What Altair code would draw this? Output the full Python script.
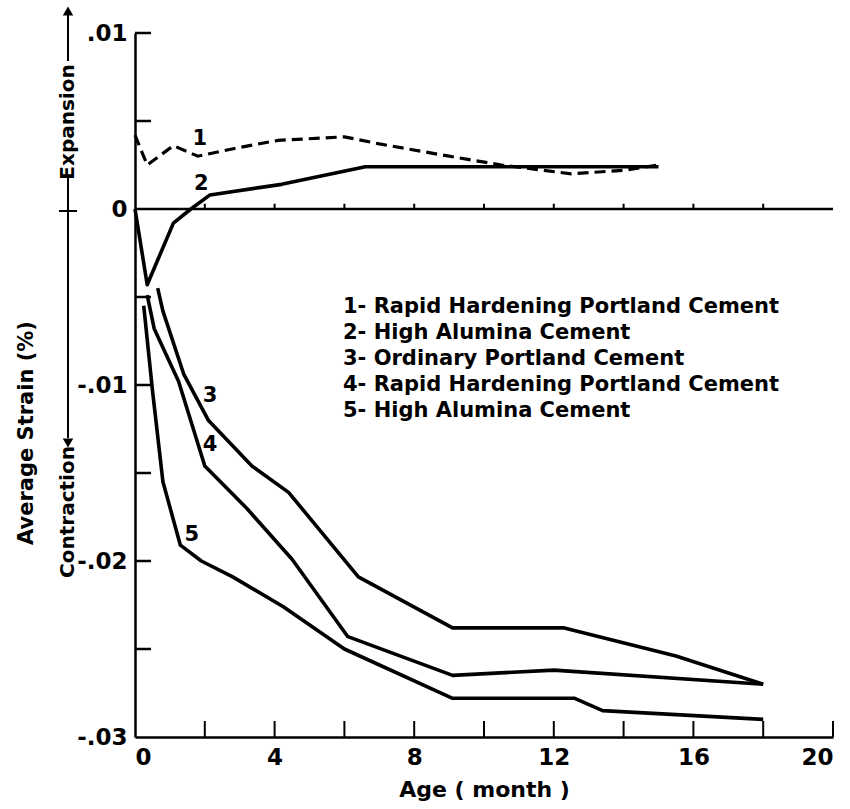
import altair as alt
import pandas as pd

# ---- data ----
s1_x = [0, 0.35, 1.1, 1.8, 3.0, 4.1, 6.0, 7.0, 9.0, 10.5, 12.5, 14.0, 15.0]
s1_y = [0.0042, 0.0025, 0.0036, 0.0030, 0.0035, 0.0039, 0.0041, 0.0037, 0.0030, 0.0025, 0.0020, 0.0022, 0.0025]

s2_x = [0, 0.35, 1.1, 1.6, 2.15, 4.2, 6.6, 10.0, 15.0]
s2_y = [0, -0.0043, -0.0008, 0, 0.0008, 0.0014, 0.0024, 0.0024, 0.0024]

s3_x = [0.65, 0.8, 1.4, 2.1, 3.35, 4.4, 6.4, 9.1, 12.3, 15.5, 18.0]
s3_y = [-0.0045, -0.0058, -0.0094, -0.0120, -0.0146, -0.0161, -0.0209, -0.0238, -0.0238, -0.0254, -0.0270]

s4_x = [0.35, 0.55, 1.25, 2.0, 3.2, 4.5, 6.1, 9.1, 12.0, 18.0]
s4_y = [-0.0049, -0.0068, -0.0098, -0.0146, -0.0170, -0.0199, -0.0243, -0.0265, -0.0262, -0.0270]

s5_x = [0.25, 0.5, 0.8, 1.3, 1.9, 2.8, 4.25, 6.0, 9.1, 12.6, 13.4, 18.0]
s5_y = [-0.0055, -0.0103, -0.0155, -0.0191, -0.0200, -0.0209, -0.0226, -0.0250, -0.0278, -0.0278, -0.0285, -0.0290]

curve_labels = ["1", "2", "3", "4", "5"]
curve_label_x = [1.86, 1.9, 2.15, 2.15, 1.63]
curve_label_y = [0.0040, 0.0014, -0.0106, -0.0134, -0.0185]

legend_lines = [
    "1- Rapid Hardening Portland Cement",
    "2- High Alumina Cement",
    "3- Ordinary Portland Cement",
    "4- Rapid Hardening Portland Cement",
    "5- High Alumina Cement",
]

x_tick_labels = [0, 4, 8, 12, 16, 20]
x_minor_ticks = [2, 4, 6, 8, 10, 12, 14, 16, 18, 20]
zero_line_ticks = [2, 4, 6, 8, 10, 12, 14, 16, 18]
y_tick_labels = [0.01, 0, -0.01, -0.02, -0.03]
y_minor_ticks = [0.01, 0.005, -0.005, -0.01, -0.015, -0.02, -0.025]

FONT = "DejaVu Sans"
W, H = 698, 704

df_solid = pd.concat([
    pd.DataFrame({"age": s2_x, "strain": s2_y, "series": "2"}),
    pd.DataFrame({"age": s3_x, "strain": s3_y, "series": "3"}),
    pd.DataFrame({"age": s4_x, "strain": s4_y, "series": "4"}),
    pd.DataFrame({"age": s5_x, "strain": s5_y, "series": "5"}),
])
df_dash = pd.DataFrame({"age": s1_x, "strain": s1_y})
df_lab = pd.DataFrame({"t": curve_labels, "age": curve_label_x, "strain": curve_label_y})

xs = alt.Scale(domain=[0, 20], nice=False, zero=False)
ys = alt.Scale(domain=[-0.03, 0.01], nice=False, zero=False)

ylabel_expr = ("datum.value > 0.005 ? '.01' : datum.value > -0.005 ? '0' : "
               "datum.value > -0.015 ? '-.01' : datum.value > -0.025 ? '-.02' : '-.03'")

X = alt.X("age:Q", scale=xs, title="Age ( month )",
          axis=alt.Axis(values=x_tick_labels, format="d", ticks=False, grid=False,
                        domainColor="black", domainWidth=2.5, labelFont=FONT,
                        labelFontSize=23, labelFontWeight="bold", labelColor="black",
                        labelPadding=9, titleFont=FONT, titleFontSize=22, titleColor="black",
                        titleFontWeight="bold", titlePadding=10))
Y = alt.Y("strain:Q", scale=ys, title=None,
          axis=alt.Axis(values=y_tick_labels, labelExpr=ylabel_expr, ticks=False, grid=False,
                        domainColor="black", domainWidth=2.5, labelFont=FONT,
                        labelFontSize=23, labelFontWeight="bold", labelColor="black",
                        labelPadding=8))

solid = alt.Chart(df_solid).mark_line(color="black", strokeWidth=3.6, strokeJoin="round").encode(
    x=X, y=Y, detail="series:N")
dash = alt.Chart(df_dash).mark_line(color="black", strokeWidth=3.2, strokeDash=[11, 6]).encode(
    x=alt.X("age:Q", scale=xs), y=alt.Y("strain:Q", scale=ys))

labels = alt.Chart(df_lab).mark_text(font=FONT, fontSize=21, fontWeight="bold", color="black").encode(
    x=alt.X("age:Q", scale=xs), y=alt.Y("strain:Q", scale=ys), text="t:N")

ytk = alt.Chart(pd.DataFrame({"v": y_minor_ticks})).mark_rule(color="black", strokeWidth=2.5).encode(
    y=alt.Y("v:Q", scale=ys), x=alt.value(0), x2=alt.value(16))
xtk = alt.Chart(pd.DataFrame({"v": x_minor_ticks})).mark_rule(color="black", strokeWidth=2).encode(
    x=alt.X("v:Q", scale=xs), y=alt.value(H), y2=alt.value(H - 16))
zero = alt.Chart(pd.DataFrame({"v": [0]})).mark_rule(color="black", strokeWidth=2.5).encode(
    y=alt.Y("v:Q", scale=ys), x=alt.value(0), x2=alt.value(W))
ztk = alt.Chart(pd.DataFrame({"v": zero_line_ticks})).mark_rule(color="black", strokeWidth=2).encode(
    x=alt.X("v:Q", scale=xs), y=alt.datum(0, scale=ys), y2=alt.datum(0.0003))

legend = alt.Chart(pd.DataFrame({"a": [0]})).mark_text(
    text=legend_lines, font=FONT, fontSize=21, fontWeight="bold", lineHeight=26.0, align="left",
    baseline="top", color="black").encode(x=alt.value(208), y=alt.value(263))

# side annotations
ytitle = alt.Chart(pd.DataFrame({"a": [0]})).mark_text(
    text="Average Strain (%)", font=FONT, fontSize=21, fontWeight="bold", angle=270,
    color="black").encode(x=alt.value(-108), y=alt.value(400))
contr = alt.Chart(pd.DataFrame({"a": [0]})).mark_text(
    text="Contraction", font=FONT, fontSize=20, fontWeight="bold", angle=270,
    color="black").encode(x=alt.value(-67), y=alt.value(479))
expan = alt.Chart(pd.DataFrame({"a": [0]})).mark_text(
    text="Expansion", font=FONT, fontSize=20, fontWeight="bold", angle=270,
    color="black").encode(x=alt.value(-67), y=alt.value(89))
line_down = alt.Chart(pd.DataFrame({"a": [0]})).mark_rule(color="black", strokeWidth=2).encode(
    x=alt.value(-67), y=alt.value(145), y2=alt.value(405))
cross = alt.Chart(pd.DataFrame({"a": [0]})).mark_rule(color="black", strokeWidth=2).encode(
    x=alt.value(-76), x2=alt.value(-58), y=alt.value(178))
line_up = alt.Chart(pd.DataFrame({"a": [0]})).mark_rule(color="black", strokeWidth=2).encode(
    x=alt.value(-67), y=alt.value(28), y2=alt.value(-18))
head_down = alt.Chart(pd.DataFrame({"a": [0]})).mark_point(
    shape="triangle-down", filled=True, color="black", size=110, opacity=1).encode(
    x=alt.value(-67), y=alt.value(410))
head_up = alt.Chart(pd.DataFrame({"a": [0]})).mark_point(
    shape="triangle-up", filled=True, color="black", size=110, opacity=1).encode(
    x=alt.value(-67), y=alt.value(-22))

chart = alt.layer(
    solid, dash, labels, ytk, xtk, zero, ztk, legend,
    ytitle, contr, expan, line_down, cross, line_up, head_down, head_up
).properties(
    width=W, height=H,
    autosize=alt.AutoSizeParams(type="none"),
    padding={"left": 135, "top": 33, "right": 17, "bottom": 72},
    background="white",
).configure_view(stroke=None)

chart.save("out.html", embed_options={"renderer": "svg", "actions": False})
